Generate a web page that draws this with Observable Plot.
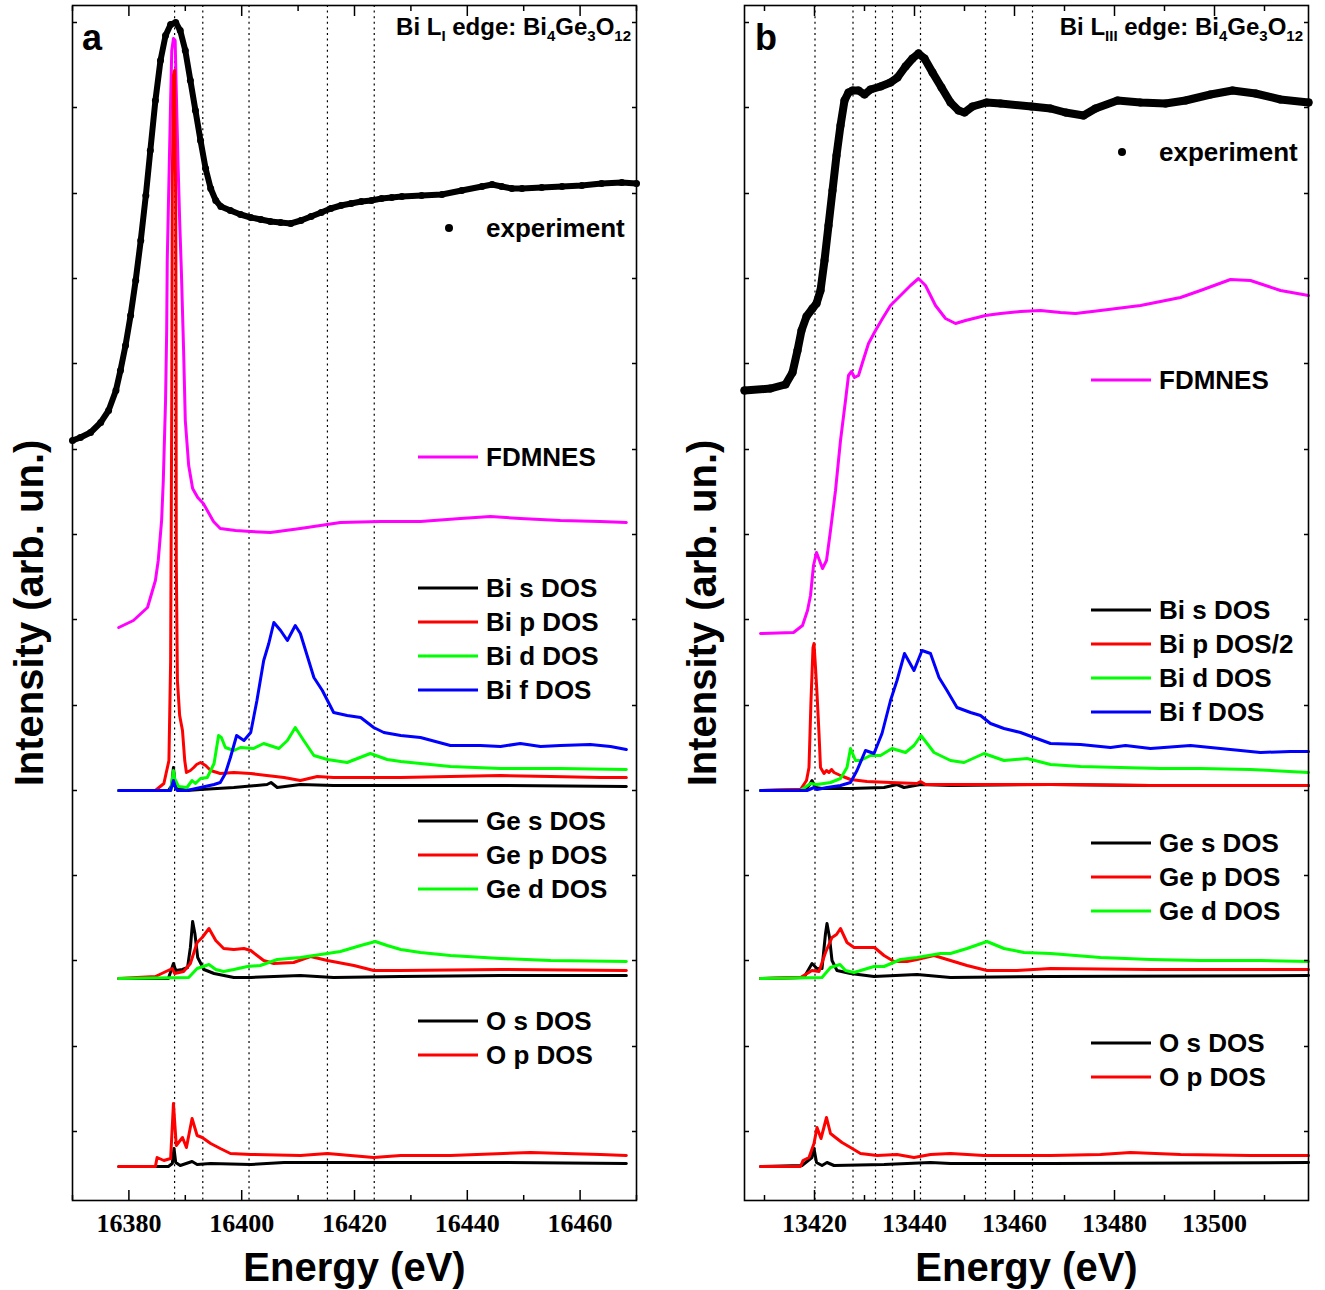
<!DOCTYPE html>
<html><head><meta charset="utf-8">
<script src="https://cdn.jsdelivr.net/npm/d3@7"></script>
<script src="https://cdn.jsdelivr.net/npm/@observablehq/plot@0.6"></script>
<style>
html,body{margin:0;padding:0;background:#fff;}
#wrap{position:relative;width:1325px;height:1290px;overflow:hidden;background:#fff;}
#wrap > svg{position:absolute;top:0;}
</style></head><body><div id="wrap"></div>
<script>
// ---------- Panel a : Bi L_I edge (energy eV, intensity arb. un.) ----------
const aExperiment = [[16370.0,760],[16371.4,763],[16373.2,768],[16375.0,778],[16376.4,790],[16377.7,810],[16378.5,830],[16379.4,855],[16380.3,885],[16381.2,920],[16382.1,960],[16383.0,1005],[16383.8,1050],[16384.7,1100],[16385.6,1140],[16386.5,1165],[16387.4,1176],[16388.3,1178],[16389.1,1170],[16390.0,1150],[16390.9,1120],[16391.8,1090],[16392.7,1060],[16393.6,1032],[16394.5,1012],[16395.4,1000],[16396.3,994],[16398.0,990],[16399.8,986],[16401.6,983],[16403.4,981],[16405.1,979],[16406.9,978],[16408.7,977],[16410.5,980],[16412.3,984],[16414.1,988],[16415.8,992],[16417.6,995],[16419.4,997],[16421.2,999],[16423.0,1000],[16424.8,1002],[16426.6,1003],[16428.4,1004],[16431.9,1005],[16435.5,1006],[16439.0,1010],[16442.6,1014],[16444.4,1016],[16446.1,1014],[16447.9,1012],[16449.7,1012],[16453.2,1013],[16456.8,1014],[16460.3,1015],[16463.8,1017],[16467.4,1018],[16470.0,1017]];
const aFDMNES = [[16378.2,573],[16380.8,580],[16383.3,593],[16384.7,620],[16385.2,640],[16385.8,680],[16386.1,720],[16386.5,800],[16386.7,870],[16386.8,940],[16387.1,1020],[16387.4,1100],[16387.6,1150],[16387.9,1162],[16388.2,1160],[16388.4,1110],[16388.7,1040],[16389.0,980],[16389.3,930],[16389.7,850],[16390.0,780],[16390.6,735],[16391.3,712],[16392.2,703],[16393.2,697],[16394.1,688],[16395.0,679],[16396.2,672],[16398.9,670],[16401.6,669],[16405.1,668],[16410.4,672],[16417.5,678],[16424.6,679],[16431.7,679],[16438.8,682],[16444.1,684],[16449.4,682],[16456.5,680],[16463.6,679],[16468.2,678]];
const aBiS = [[16378.2,410],[16387.0,410],[16387.6,415],[16387.9,433],[16388.1,420],[16388.3,413],[16390.3,410],[16392.7,411],[16398.6,413],[16404.5,416],[16405.2,418],[16406.3,413],[16410.4,416],[16416.3,415],[16428.2,415],[16445.9,415],[16468.2,414]];
const aBiP = [[16378.2,410],[16384.7,410],[16386.2,417],[16387.1,440],[16387.4,540],[16387.6,800],[16387.7,1020],[16387.9,1125],[16388.1,1130],[16388.3,1000],[16388.35,880],[16388.4,640],[16388.6,520],[16389.0,485],[16389.5,470],[16389.9,440],[16390.2,428],[16390.9,430],[16391.5,433],[16392.0,436],[16392.7,438],[16393.6,435],[16394.5,430],[16396.2,427],[16398.6,428],[16401.6,427],[16407.5,423],[16410.4,420],[16413.4,424],[16416.3,423],[16422.3,423],[16428.2,423],[16437.0,424],[16445.9,425],[16454.8,424],[16463.6,423],[16468.2,423]];
const aBiD = [[16378.2,410],[16387.4,410],[16387.6,418],[16387.9,430],[16388.1,422],[16388.8,414],[16390.3,413],[16391.2,420],[16391.8,417],[16392.7,422],[16393.9,423],[16395.1,437],[16395.9,465],[16396.4,463],[16397.1,453],[16398.6,450],[16399.8,453],[16402.1,452],[16403.9,457],[16406.6,452],[16408.1,460],[16409.5,473],[16411.0,460],[16412.8,445],[16415.2,441],[16418.7,438],[16422.8,447],[16425.8,441],[16428.2,439],[16437.0,434],[16445.9,432],[16456.5,432],[16468.2,431]];
const aBiF = [[16378.2,410],[16387.4,410],[16387.9,420],[16388.3,412],[16388.6,410],[16390.3,410],[16392.7,413],[16395.1,416],[16396.2,418],[16397.1,427],[16398.0,443],[16399.1,465],[16400.4,460],[16401.6,468],[16402.7,500],[16403.9,540],[16404.8,557],[16405.7,578],[16406.9,570],[16408.1,560],[16409.5,575],[16410.4,567],[16412.8,523],[16414.3,510],[16416.3,488],[16418.7,485],[16421.1,483],[16423.4,473],[16425.2,468],[16428.2,465],[16431.7,463],[16437.0,455],[16442.3,455],[16445.9,454],[16449.4,457],[16453.0,454],[16456.5,455],[16461.8,456],[16465.4,454],[16468.2,451]];
const aGeS = [[16378.2,222],[16387.0,222],[16387.9,237],[16388.3,230],[16389.5,231],[16390.4,233],[16390.9,253],[16391.3,279],[16391.7,267],[16392.2,243],[16393.3,231],[16395.1,227],[16398.6,223],[16401.6,223],[16410.4,225],[16416.3,223],[16428.2,224],[16445.9,225],[16468.2,225]];
const aGeP = [[16378.2,222],[16384.7,224],[16387.7,232],[16388.1,227],[16389.7,229],[16390.9,237],[16392.1,258],[16393.0,263],[16394.2,272],[16395.4,260],[16396.8,252],[16398.6,251],[16400.4,252],[16401.6,250],[16403.9,240],[16405.7,237],[16409.2,238],[16412.2,244],[16415.2,240],[16419.9,235],[16423.4,230],[16428.2,230],[16445.9,231],[16468.2,230]];
const aGeD = [[16378.2,222],[16390.6,223],[16392.1,232],[16394.2,236],[16395.4,231],[16396.8,229],[16398.6,231],[16401.0,234],[16403.3,235],[16406.3,241],[16410.4,243],[16415.2,247],[16417.5,249],[16421.1,255],[16423.7,259],[16425.8,255],[16428.2,251],[16431.7,248],[16437.0,245],[16445.9,242],[16454.8,240],[16468.2,239]];
const aOS = [[16378.2,34],[16387.0,34],[16387.7,37],[16388.0,52],[16388.3,38],[16389.1,35],[16391.2,39],[16392.1,36],[16394.5,37],[16401.6,36],[16407.5,38],[16416.3,38],[16428.2,38],[16445.9,38],[16468.2,37]];
const aOP = [[16378.2,34],[16384.7,34],[16385.0,43],[16386.2,40],[16387.4,42],[16387.9,97],[16388.4,55],[16389.5,63],[16390.2,53],[16391.2,82],[16392.1,65],[16393.0,63],[16394.5,57],[16396.2,52],[16398.0,47],[16401.6,46],[16410.4,45],[16415.2,47],[16419.3,45],[16423.4,43],[16428.2,45],[16437.0,45],[16451.2,48],[16463.6,46],[16468.2,45]];
const aMarkers = [16388.1, 16393.1, 16401.3, 16415.2, 16423.5];
const aMajorTicks = [16380, 16400, 16420, 16440, 16460];
const aMinorTicks = [16370, 16390, 16410, 16430, 16450, 16470];

// ---------- Panel b : Bi L_III edge ----------
const bExperiment = [[13406.0,810],[13411.2,812],[13414.2,816],[13415.6,828],[13416.6,850],[13417.4,870],[13418.4,884],[13419.6,892],[13420.4,897],[13421.2,910],[13422.0,940],[13422.8,975],[13423.6,1010],[13424.4,1045],[13425.2,1075],[13426.0,1100],[13426.8,1108],[13427.6,1110],[13428.8,1110],[13430.0,1106],[13431.2,1111],[13433.2,1114],[13435.2,1118],[13436.6,1123],[13438.2,1134],[13439.6,1142],[13440.8,1147],[13442.0,1142],[13443.6,1128],[13445.4,1113],[13447.2,1098],[13448.8,1090],[13450.0,1088],[13451.6,1094],[13454.4,1098],[13457.2,1097],[13463.4,1094],[13467.2,1092],[13470.2,1088],[13473.8,1085],[13476.2,1092],[13480.6,1100],[13485.2,1098],[13490.2,1097],[13494.2,1100],[13499.2,1106],[13503.6,1110],[13508.2,1107],[13513.2,1101],[13518.8,1098]];
const bFDMNES = [[13409.2,567],[13415.8,568],[13417.6,575],[13418.6,590],[13419.2,605],[13419.8,635],[13420.4,648],[13421.0,640],[13421.6,632],[13422.4,640],[13423.2,670],[13424.2,710],[13425.2,760],[13426.2,800],[13426.8,825],[13427.4,829],[13428.0,823],[13428.8,825],[13429.6,838],[13430.8,857],[13432.2,870],[13433.6,882],[13435.2,895],[13437.2,905],[13439.2,915],[13440.8,922],[13442.2,915],[13444.2,895],[13446.2,882],[13448.2,877],[13450.2,880],[13454.2,885],[13457.2,887],[13461.2,889],[13465.2,890],[13469.2,888],[13472.2,887],[13477.2,890],[13485.2,895],[13493.2,903],[13497.2,910],[13503.2,921],[13507.2,920],[13513.2,910],[13518.8,905]];
const bBiS = [[13409.2,410],[13418.2,411],[13418.9,415],[13419.5,420],[13420.2,413],[13421.5,412],[13427.2,412],[13433.9,413],[13436.5,416],[13437.9,413],[13441.2,416],[13447.2,415],[13467.2,416],[13487.2,415],[13518.8,415]];
const bBiP2 = [[13409.2,410],[13417.2,411],[13418.4,420],[13418.9,433],[13419.3,500],[13419.7,553],[13419.9,557],[13420.2,533],[13420.5,507],[13420.9,467],[13421.2,433],[13421.9,427],[13422.4,430],[13422.9,428],[13423.4,431],[13423.9,428],[13425.2,425],[13427.2,421],[13430.5,419],[13435.2,418],[13440.5,417],[13441.2,419],[13442.2,416],[13447.2,416],[13467.2,416],[13487.2,415],[13518.8,415]];
const bBiD = [[13409.2,410],[13417.2,410],[13419.2,417],[13420.5,416],[13421.9,417],[13423.2,418],[13425.2,422],[13426.5,433],[13427.2,452],[13428.2,440],[13429.2,440],[13431.2,445],[13433.2,445],[13435.5,452],[13438.2,448],[13439.9,455],[13441.3,465],[13443.9,448],[13447.2,440],[13449.9,438],[13453.9,447],[13457.9,440],[13462.5,442],[13467.2,436],[13473.2,434],[13481.2,433],[13489.2,432],[13497.2,432],[13507.2,431],[13518.8,428]];
const bBiF = [[13409.2,410],[13418.5,410],[13419.9,413],[13420.5,411],[13422.5,413],[13425.2,415],[13427.2,418],[13428.5,430],[13430.2,450],[13431.9,447],[13433.5,467],[13435.2,500],[13436.5,520],[13438.0,547],[13439.9,530],[13441.5,550],[13443.2,547],[13444.9,523],[13446.5,510],[13448.5,493],[13451.2,488],[13453.2,485],[13455.2,477],[13457.9,472],[13461.2,468],[13463.9,463],[13467.2,457],[13473.2,456],[13479.2,453],[13482.2,455],[13487.2,452],[13495.2,455],[13501.2,452],[13509.2,448],[13515.2,449],[13518.8,449]];
const bGeS = [[13409.2,222],[13417.9,223],[13419.5,237],[13420.5,232],[13421.5,232],[13422.2,267],[13422.5,277],[13423.0,263],[13423.5,240],[13424.5,230],[13427.2,227],[13431.9,224],[13440.5,226],[13447.2,223],[13467.2,224],[13518.8,225]];
const bGeP = [[13409.2,222],[13417.2,223],[13419.5,230],[13420.9,229],[13422.2,248],[13423.5,263],[13424.4,266],[13425.2,272],[13426.5,258],[13427.9,253],[13430.5,253],[13432.0,253],[13433.9,245],[13435.9,239],[13438.5,239],[13440.5,241],[13443.9,245],[13447.2,240],[13450.5,235],[13454.5,230],[13460.5,230],[13467.2,232],[13487.2,231],[13518.8,231]];
const bGeD = [[13409.2,222],[13421.5,223],[13423.2,233],[13425.1,236],[13426.2,230],[13427.9,228],[13431.9,234],[13433.9,234],[13437.2,241],[13440.5,243],[13445.2,247],[13447.2,247],[13450.5,252],[13454.5,259],[13457.9,252],[13461.9,248],[13467.2,247],[13477.2,243],[13487.2,241],[13497.2,240],[13509.2,240],[13518.8,239]];
const bOS = [[13409.2,34],[13417.5,35],[13419.5,43],[13419.9,52],[13420.4,38],[13421.5,35],[13422.5,38],[13423.9,35],[13433.9,36],[13443.2,38],[13447.2,37],[13467.2,37],[13518.8,38]];
const bOP = [[13409.2,34],[13417.2,34],[13417.7,40],[13418.9,43],[13419.9,57],[13420.5,73],[13421.3,62],[13422.4,83],[13423.2,67],[13424.2,63],[13425.5,58],[13427.2,53],[13429.2,47],[13432.5,45],[13436.5,46],[13439.9,43],[13443.2,46],[13447.2,47],[13453.9,45],[13467.2,45],[13477.2,46],[13483.2,48],[13493.2,46],[13507.2,45],[13518.8,45]];
const bMarkers = [13420.1, 13427.7, 13432.2, 13435.6, 13441.2, 13454.2, 13463.6];
const bMajorTicks = [13420, 13440, 13460, 13480, 13500];
const bMinorTicks = [13410, 13430, 13450, 13470, 13490, 13510];

// y ticks (unlabelled, arb. units)
const yTicks = [69, 154, 240, 325, 410, 495, 581, 666, 751, 837, 922, 1007, 1093, 1178];

// legend labels
const legendA = {exp: "experiment", fd: "FDMNES", bi: ["Bi s DOS","Bi p DOS","Bi d DOS","Bi f DOS"], ge: ["Ge s DOS","Ge p DOS","Ge d DOS"], o: ["O s DOS","O p DOS"]};
const legendB = {exp: "experiment", fd: "FDMNES", bi: ["Bi s DOS","Bi p DOS/2","Bi d DOS","Bi f DOS"], ge: ["Ge s DOS","Ge p DOS","Ge d DOS"], o: ["O s DOS","O p DOS"]};
const colors = {s: "#000000", p: "#ff0000", d: "#00ff00", f: "#0000ff", fd: "#ff00ff"};

const wrap = document.getElementById("wrap");
const X = d => d[0], Y = d => d[1];

function panel(cfg) {
  const series = [
    [cfg.fd, colors.fd],
    [cfg.biS, colors.s], [cfg.biP, colors.p], [cfg.biD, colors.d], [cfg.biF, colors.f],
    [cfg.geS, colors.s], [cfg.geP, colors.p], [cfg.geD, colors.d],
    [cfg.oS, colors.s], [cfg.oP, colors.p]
  ];
  const tickOnly = (anchor, ticks, size) => Plot.axisX({anchor, ticks, tickSize: size, fill: "none", stroke: "#000", strokeWidth: 1.5, label: null});
  const tickOnlyY = (anchor) => Plot.axisY({anchor, ticks: yTicks, tickSize: -5, fill: "none", stroke: "#000", strokeWidth: 1.5, label: null});
  const chart = Plot.plot({
    width: cfg.width, height: 1290,
    marginLeft: cfg.ml, marginRight: cfg.mr, marginTop: 5, marginBottom: 90,
    style: {fontFamily: "'Liberation Sans', Arial, sans-serif", background: "transparent", overflow: "visible"},
    x: {domain: cfg.xDomain, label: null},
    y: {domain: [0, 1195], label: null},
    marks: [
      Plot.ruleX(cfg.markers, {stroke: "#000", strokeWidth: 1.2, strokeDasharray: "2,3.6"}),
      ...series.map(([data, c]) => Plot.line(data, {x: X, y: Y, stroke: c, strokeWidth: 3, strokeLinejoin: "round"})),
      Plot.line(cfg.exp, {x: X, y: Y, stroke: "#000", strokeWidth: cfg.expWidth, strokeLinejoin: "round"}),
      Plot.dot(cfg.exp, {x: X, y: Y, r: cfg.expR, fill: "#000"}),
      Plot.frame({stroke: "#000", strokeWidth: 1.6}),
      tickOnly("bottom", cfg.major, -10),
      tickOnly("bottom", cfg.minor, -5),
      tickOnly("top", cfg.major, -10),
      tickOnly("top", cfg.minor, -5),
      Plot.axisX({anchor: "bottom", ticks: cfg.major, tickSize: 0, tickPadding: 13, tickFormat: d => String(d),
        fontSize: 26, fontWeight: "bold", fontFamily: "'Liberation Serif', 'Times New Roman', serif", fill: "#000", label: null}),
      tickOnlyY("left"),
      tickOnlyY("right"),
      Plot.text(["Energy (eV)"], {frameAnchor: "bottom", dy: 68, text: d => d, fontSize: 40, fontWeight: "bold", fill: "#000", lineAnchor: "middle", textAnchor: "middle"}),
      Plot.text(["Intensity (arb. un.)"], {frameAnchor: "left", dx: cfg.ylabDx, dy: 10, rotate: -90, text: d => d, fontSize: 40, fontWeight: "bold", fill: "#000", lineAnchor: "middle", textAnchor: "middle"})
    ]
  });
  chart.style.left = cfg.left + "px";
  wrap.appendChild(chart);
}

panel({left: 0, width: 662, ml: 72, mr: 26, xDomain: [16370, 16470], ylabDx: -42, expWidth: 6, expR: 3.5,
  exp: aExperiment, fd: aFDMNES, biS: aBiS, biP: aBiP, biD: aBiD, biF: aBiF, geS: aGeS, geP: aGeP, geD: aGeD, oS: aOS, oP: aOP,
  markers: aMarkers, major: aMajorTicks, minor: aMinorTicks});
panel({left: 662, width: 663, ml: 82, mr: 17, xDomain: [13406, 13518.8], ylabDx: -41, expWidth: 8, expR: 4,
  exp: bExperiment, fd: bFDMNES, biS: bBiS, biP: bBiP2, biD: bBiD, biF: bBiF, geS: bGeS, geP: bGeP, geD: bGeD, oS: bOS, oP: bOP,
  markers: bMarkers, major: bMajorTicks, minor: bMinorTicks});

// ---------- overlay: panel letters, titles, legends ----------
const ov = d3.select(wrap).append("svg").attr("width", 1325).attr("height", 1290)
  .style("left", "0px").style("font-family", "'Liberation Sans', Arial, sans-serif").style("font-weight", "bold");

function title(xEnd, parts) {
  const t = ov.append("text").attr("x", xEnd).attr("y", 35).attr("text-anchor", "end").attr("font-size", 24).attr("fill", "#000");
  let shifted = false;
  parts.forEach(([s, sub]) => {
    const ts = t.append("tspan").attr("font-size", sub ? 15 : 24).text(s);
    if (sub && !shifted) { ts.attr("dy", 6); shifted = true; }
    else if (!sub && shifted) { ts.attr("dy", -6); shifted = false; }
  });
}
ov.append("text").attr("x", 82).attr("y", 50).attr("font-size", 36).text("a");
ov.append("text").attr("x", 755).attr("y", 50).attr("font-size", 36).text("b");
title(631, [["Bi L"], ["I", 1], [" edge: Bi"], ["4", 1], ["Ge"], ["3", 1], ["O"], ["12", 1]]);
title(1303, [["Bi L"], ["III", 1], [" edge: Bi"], ["4", 1], ["Ge"], ["3", 1], ["O"], ["12", 1]]);

function legend(lg, L) {
  ov.append("circle").attr("cx", L.dotX).attr("cy", L.expY).attr("r", 4).attr("fill", "#000");
  ov.append("text").attr("x", L.tx).attr("y", L.expY).attr("dominant-baseline", "central").attr("font-size", 26).text(lg.exp);
  const entries = [[lg.fd, colors.fd, L.fdY]];
  const c4 = [colors.s, colors.p, colors.d, colors.f];
  lg.bi.forEach((s, i) => entries.push([s, c4[i], L.biY + 34 * i]));
  lg.ge.forEach((s, i) => entries.push([s, c4[i], L.geY + 34 * i]));
  lg.o.forEach((s, i) => entries.push([s, c4[i], L.oY + 34 * i]));
  entries.forEach(([s, c, y]) => {
    ov.append("line").attr("x1", L.x0).attr("x2", L.x0 + 60).attr("y1", y).attr("y2", y).attr("stroke", c).attr("stroke-width", 3);
    ov.append("text").attr("x", L.tx).attr("y", y).attr("dominant-baseline", "central").attr("font-size", 26).text(s);
  });
}
legend(legendA, {dotX: 449, tx: 486, x0: 418, expY: 228, fdY: 457, biY: 588, geY: 821, oY: 1021});
legend(legendB, {dotX: 1122, tx: 1159, x0: 1091, expY: 152, fdY: 380, biY: 610, geY: 843, oY: 1043});
</script>
</body></html>
